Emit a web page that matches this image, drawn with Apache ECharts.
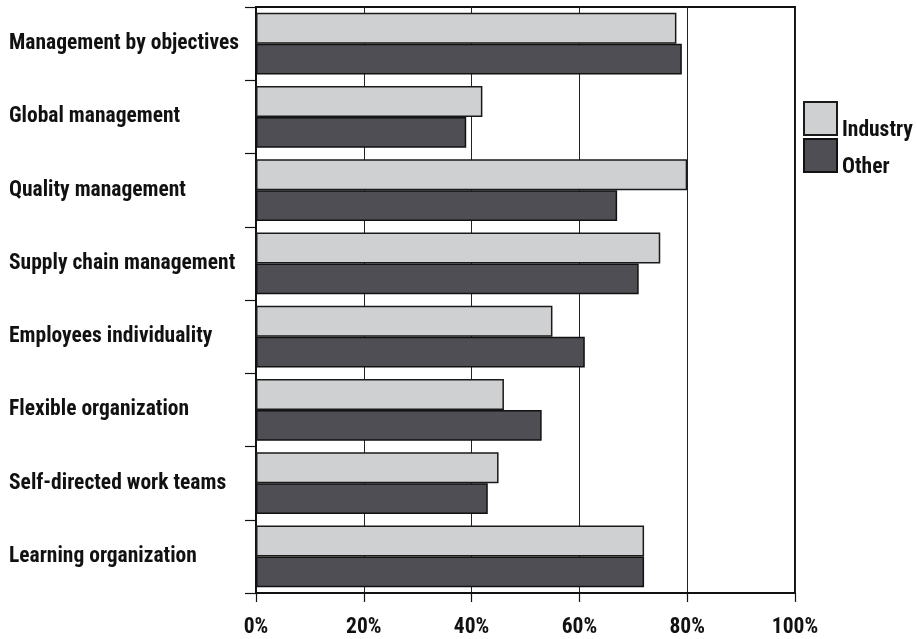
<!DOCTYPE html>
<html>
<head>
<meta charset="utf-8">
<script src="https://cdn.jsdelivr.net/npm/echarts@6/dist/echarts.min.js"></script>
<style>
  html, body { margin: 0; padding: 0; background: #fff; }
  #chart { width: 917px; height: 639px; }
</style>
</head>
<body>
<div id="chart"></div>
<script>
// Management practices: share of firms using each approach
const categories = [
  'Management by objectives',
  'Global management',
  'Quality management',
  'Supply chain management',
  'Employees individuality',
  'Flexible organization',
  'Self-directed work teams',
  'Learning organization'
];
const industryValues = [78, 42, 80, 75, 55, 46, 45, 72];
const otherValues = [79, 39, 67, 71, 61, 53, 43, 72];
const seriesNames = ['Industry', 'Other'];

const FONT = '"Roboto Condensed", "Open Sans Condensed", "DejaVu Sans Condensed", sans-serif';
const INK = '#111';

const chart = echarts.init(document.getElementById('chart'), null, { renderer: 'canvas' });

chart.setOption({
  backgroundColor: '#ffffff',
  animation: false,
  textStyle: { fontFamily: FONT },
  grid: {
    left: 256, right: 122, top: 7, bottom: 41,
    show: true, borderColor: INK, borderWidth: 2, backgroundColor: 'transparent'
  },
  legend: {
    orient: 'vertical',
    left: 803, top: 95.5,
    padding: 0,
    // the padded names make each entry taller than its swatch; the negative
    // gap pulls the swatches back to a 4px spacing
    itemWidth: 33, itemHeight: 33, itemGap: -9,
    icon: 'rect',
    data: seriesNames,
    // legend names sit low, level with the bottom of each swatch
    formatter: name => '{t|' + name + '}',
    textStyle: {
      fontFamily: FONT, fontWeight: 'bold', fontSize: 21.5, color: INK,
      lineHeight: 13,
      rich: {
        t: {
          fontFamily: FONT, fontWeight: 'bold', fontSize: 21.5, color: INK,
          lineHeight: 13, padding: [24, 0, 0, 0]
        }
      }
    }
  },
  xAxis: {
    type: 'value',
    min: 0, max: 100, interval: 20,
    axisLine: { show: true, lineStyle: { color: INK, width: 2 } },
    axisTick: { show: true, length: 9, lineStyle: { color: INK, width: 1.2 } },
    splitLine: { show: true, lineStyle: { color: '#222', width: 1 } },
    axisLabel: {
      formatter: '{value}%',
      fontFamily: FONT, fontWeight: 'bold', fontSize: 21.5, color: INK, margin: 24
    }
  },
  yAxis: {
    type: 'category',
    inverse: true,
    data: categories,
    axisLine: { show: true, lineStyle: { color: INK, width: 1.5 } },
    axisTick: { show: true, length: 11, lineStyle: { color: INK, width: 1.2 } },
    axisLabel: {
      align: 'left', margin: 247,
      padding: [0, 0, 5, 0],
      fontFamily: FONT, fontWeight: 'bold', fontSize: 21.5, color: INK
    }
  },
  series: [
    {
      name: seriesNames[0], type: 'bar',
      data: industryValues,
      barGap: '0%', barCategoryGap: '16%',
      itemStyle: { color: '#cfd0d2', borderColor: '#1a1a1a', borderWidth: 1.5 }
    },
    {
      name: seriesNames[1], type: 'bar',
      data: otherValues,
      barGap: '0%', barCategoryGap: '16%',
      itemStyle: { color: '#4f4e54', borderColor: INK, borderWidth: 1.5 }
    }
  ]
});
</script>
</body>
</html>
